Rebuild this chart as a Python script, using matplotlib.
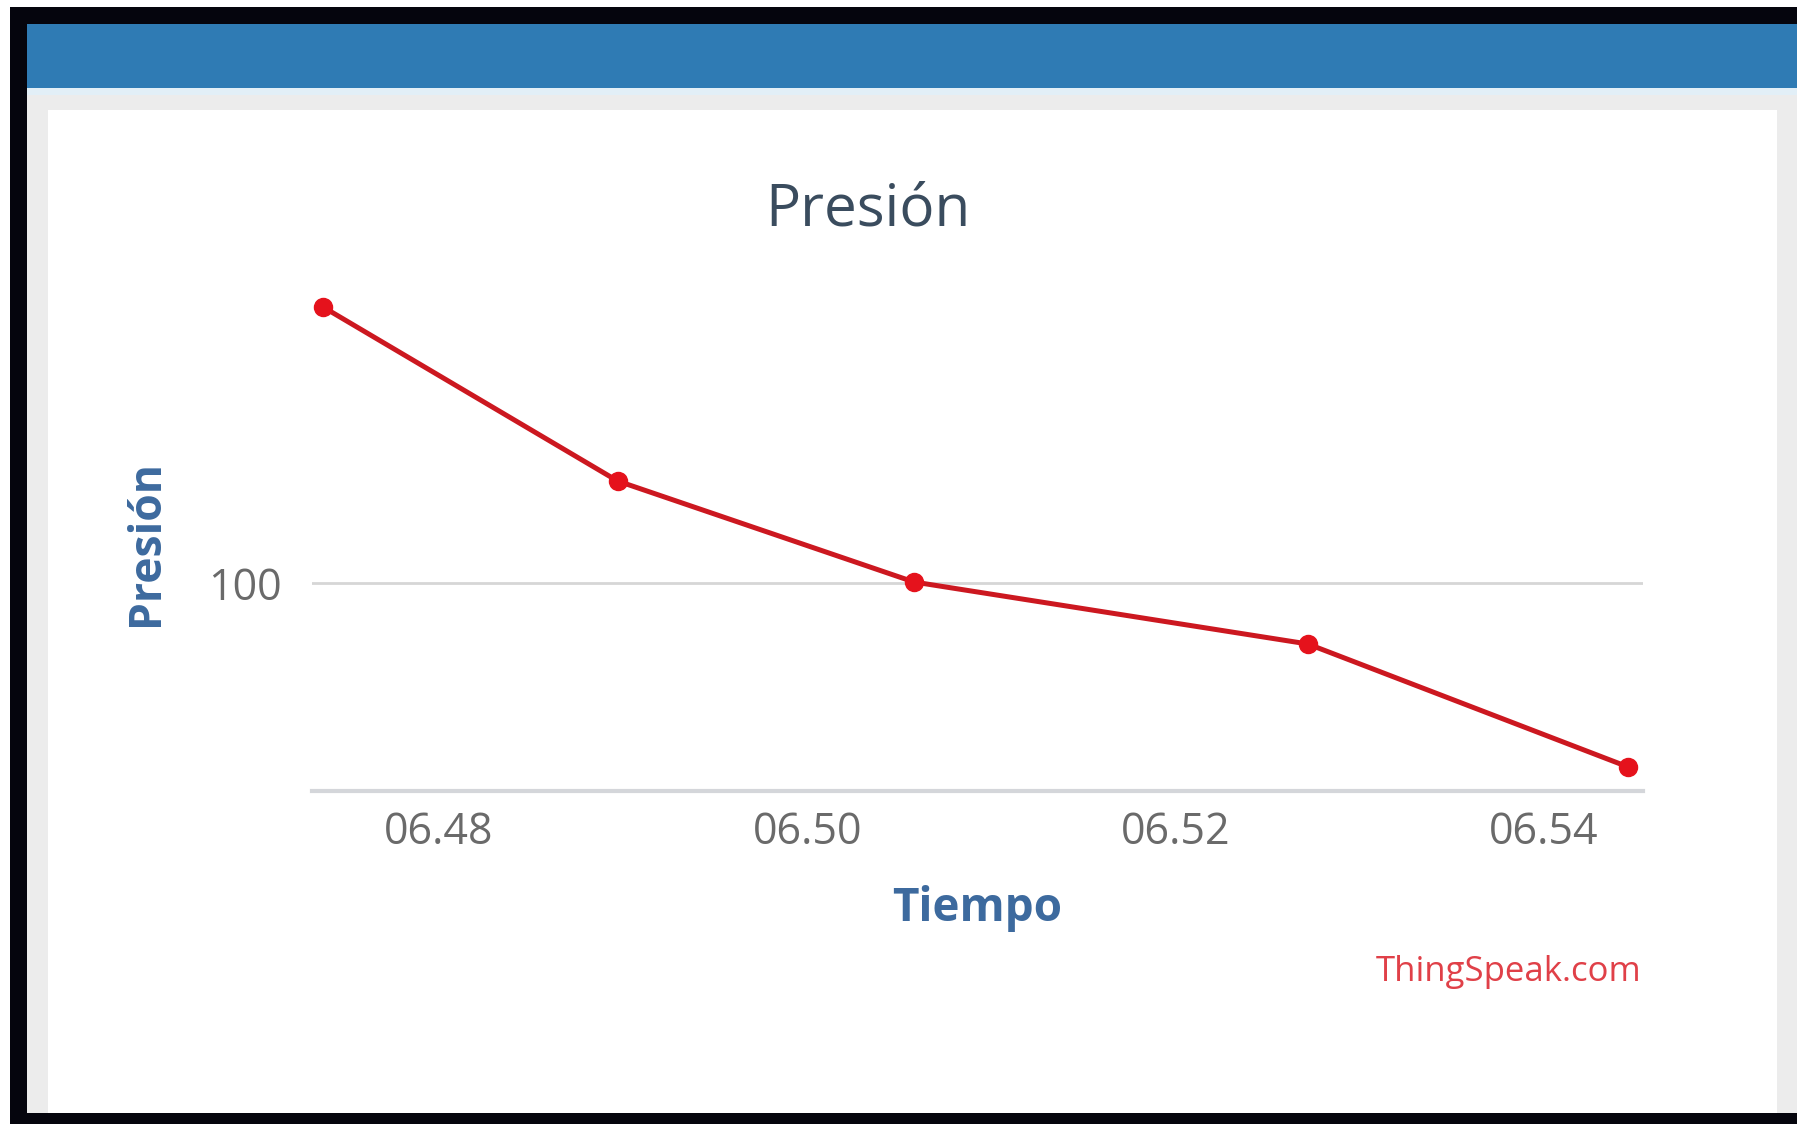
import matplotlib
matplotlib.use("Agg")
import matplotlib.pyplot as plt
from matplotlib.patches import Rectangle

# data: minutes after 06:00 and pressure readings
tiempo = [47.37, 48.97, 50.58, 52.72, 54.46]
presion = [100.276, 100.102, 100.001, 99.939, 99.816]
x_ticks = [48, 50, 52, 54]
x_tick_labels = ["06.48", "06.50", "06.52", "06.54"]
y_ticks = [100]
y_tick_labels = ["100"]

W, H = 1797, 1124
plt.rcParams['font.family'] = ['Open Sans', 'DejaVu Sans']

fig = plt.figure(figsize=(W / 100, H / 100), dpi=100)
fig.patch.set_facecolor("white")


def box(x0, y0, x1, y1, color):
    # pixel coords (top-left origin) -> figure fraction
    fig.patches.append(Rectangle((x0 / W, 1 - y1 / H), (x1 - x0) / W, (y1 - y0) / H,
                                 transform=fig.transFigure, facecolor=color,
                                 edgecolor="none", zorder=-10))


box(10, 7, W, H, "#05050d")          # black frame
box(27, 24, W, 1113, "#ececec")      # gray card frame
box(27, 24, W, 88, "#2f7bb4")        # blue header
box(27, 88, W, 95, "#e2eff7")        # light strip under header
box(48, 110, 1777, 1113, "white")    # white panel

ax = fig.add_axes([312 / W, 1 - 791 / H, (1643 - 312) / W, (791 - 295) / H])
ax.set_facecolor("none")
ax.set_zorder(5)

ax.plot(tiempo, presion, color="#cc1820", linewidth=3.6, marker="o",
        markersize=13, markerfacecolor="#e5121c", markeredgecolor="#e5121c",
        clip_on=False, zorder=3)

ax.set_xlim(47.31, 54.54)
ax.set_ylim(99.792, 100.288)

ax.set_xticks(x_ticks)
ax.set_xticklabels(x_tick_labels)
ax.set_yticks(y_ticks)
ax.set_yticklabels(y_tick_labels)
ax.tick_params(axis="both", length=0, labelsize=31, labelcolor="#6a6a6a")
ax.tick_params(axis="x", pad=14)
ax.tick_params(axis="y", pad=22)

ax.grid(axis="y", color="#d6d6d6", linewidth=2)
for s in ["top", "right", "left"]:
    ax.spines[s].set_visible(False)
ax.spines["bottom"].set_color("#d4d6da")
ax.spines["bottom"].set_linewidth(3)

ax.set_xlabel("Tiempo", fontsize=33, fontweight="bold", color="#3d6a9e", labelpad=22)
ax.set_ylabel("Presión", fontsize=32, fontweight="bold", color="#3d6a9e", labelpad=28)

fig.text(868 / W, 1 - 210 / H, "Presión", ha="center", va="center",
         fontsize=42, color="#3a4c5e")
fig.text(1641 / W, 1 - 972 / H, "ThingSpeak.com", ha="right", va="center",
         fontsize=25, color="#e04048")

fig.savefig("out.png", dpi=100, facecolor=fig.get_facecolor())
